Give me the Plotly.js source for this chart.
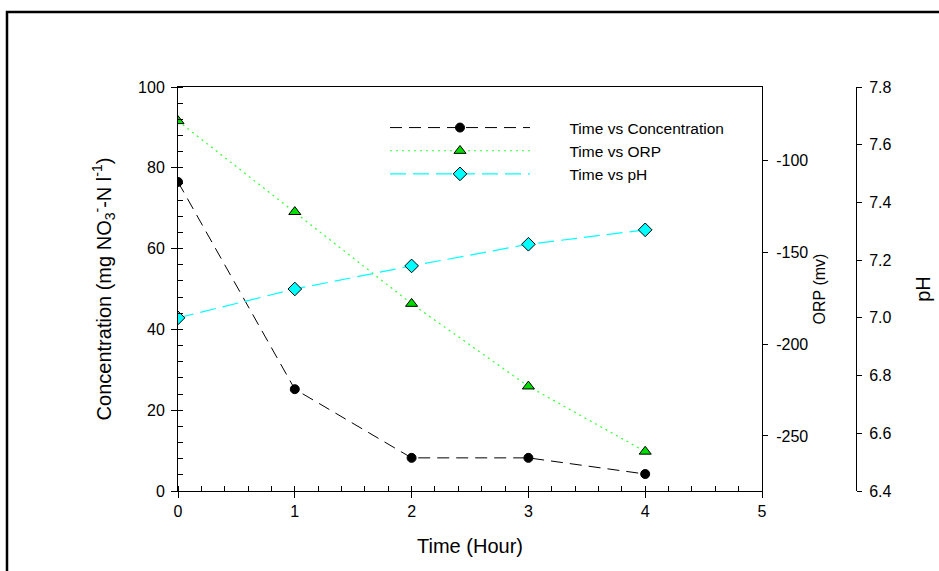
<!DOCTYPE html>
<html>
<head>
<meta charset="utf-8">
<script src="https://cdn.plot.ly/plotly-3.0.1.min.js"></script>
<style>
html,body{margin:0;padding:0;background:#fff;}
#chart{width:939px;height:571px;}
</style>
</head>
<body>
<div id="chart"></div>
<script>
const timeHours = [0, 1, 2, 3, 4];
const concentration = [76.5, 25.2, 8.2, 8.2, 4.2];
const orp = [-78.5, -128, -178, -223, -258.5];
const ph = [7.0, 7.1, 7.18, 7.255, 7.305];
const seriesNames = ['Time vs Concentration', 'Time vs ORP', 'Time vs pH'];
const orpTickVals = [-250, -200, -150, -100];
const orpTickText = ['-250', '-200', '-150', '-100'];

const FONT = 'Liberation Sans, Arial, sans-serif';
const PAD = '\u00a0\u00a0\u00a0\u00a0\u00a0\u00a0\u00a0\u00a0';

const traces = [
  {
    x: timeHours, y: concentration, name: PAD + seriesNames[0],
    type: 'scatter', mode: 'lines+markers', xaxis: 'x', yaxis: 'y',
    line: {color: '#000000', width: 1, dash: '12px,7px'},
    marker: {symbol: 'circle', size: 9, color: '#000000', line: {color: '#000000', width: 1}}
  },
  {
    x: timeHours, y: orp, name: PAD + seriesNames[1],
    type: 'scatter', mode: 'lines+markers', xaxis: 'x', yaxis: 'y2',
    line: {color: '#33ff33', width: 1.2, dash: '2px,4px'},
    marker: {symbol: 'triangle-up', size: 10.5, color: '#00dd00', line: {color: '#000000', width: 1}}
  },
  {
    x: timeHours, y: ph, name: PAD + seriesNames[2],
    type: 'scatter', mode: 'lines+markers', xaxis: 'x', yaxis: 'y3',
    line: {color: '#00ffff', width: 1.2, dash: '16px,7px'},
    marker: {symbol: 'diamond', size: 10.5, color: '#00ffff', line: {color: '#000000', width: 1}}
  }
];

const plotW = 939 - 178 - 83;
const dom = 584 / plotW;

const layout = {
  width: 939, height: 571,
  margin: {l: 178, r: 83, t: 87, b: 80, pad: 0},
  paper_bgcolor: '#ffffff', plot_bgcolor: '#ffffff',
  font: {family: FONT, size: 16, color: '#000000'},
  showlegend: true,
  legend: {
    x: (385 - 178) / plotW, y: (491 - 111) / 404, xanchor: 'left', yanchor: 'top',
    itemwidth: 140, font: {family: FONT, size: 15.5, color: '#000'},
    bgcolor: 'rgba(0,0,0,0)', tracegroupgap: 0, itemclick: false
  },
  xaxis: {
    domain: [0, dom], range: [0, 5], dtick: 1, tick0: 0,
    showline: true, linecolor: '#000', linewidth: 1, mirror: true,
    ticks: 'outside', ticklen: 6, tickwidth: 1, tickcolor: '#000',
    minor: {dtick: 0.2, ticks: 'inside', ticklen: 5, tickwidth: 1, tickcolor: '#000', showgrid: false},
    showgrid: false, zeroline: false,
    tickfont: {family: FONT, size: 16},
    title: {text: 'Time (Hour)', font: {family: FONT, size: 20}, standoff: 19}
  },
  yaxis: {
    range: [0, 100], dtick: 20, tick0: 0,
    showline: true, linecolor: '#000', linewidth: 1,
    ticks: 'outside', ticklen: 6, tickwidth: 1, tickcolor: '#000',
    ticklabelstandoff: 3,
    minor: {dtick: 4, ticks: 'inside', ticklen: 5, tickwidth: 1, tickcolor: '#000', showgrid: false},
    showgrid: false, zeroline: false,
    tickfont: {family: FONT, size: 16},
    title: {text: 'Concentration (mg NO<sub>3</sub><sup>-</sup>-N l<sup>-1</sup>)', font: {family: FONT, size: 20}, standoff: 21}
  },
  yaxis2: {
    overlaying: 'y', anchor: 'x', side: 'right',
    range: [-280, -60], tickmode: 'array', tickvals: orpTickVals, ticktext: orpTickText,
    showline: true, linecolor: '#000', linewidth: 1,
    ticks: 'outside', ticklen: 5, tickwidth: 1, tickcolor: '#000',
    ticklabelstandoff: 5,
    showgrid: false, zeroline: false,
    tickfont: {family: FONT, size: 16},
    title: {text: 'ORP (mv)', font: {family: FONT, size: 16}, standoff: 6}
  },
  yaxis3: {
    overlaying: 'y', anchor: 'free', position: 1, side: 'right',
    range: [6.4, 7.8], dtick: 0.2, tick0: 6.4, tickformat: '.1f',
    showline: true, linecolor: '#000', linewidth: 1,
    ticks: 'outside', ticklen: 5, tickwidth: 1, tickcolor: '#000',
    ticklabelstandoff: 4,
    showgrid: false, zeroline: false,
    tickfont: {family: FONT, size: 16},
    title: {text: 'pH', font: {family: FONT, size: 20}, standoff: 25}
  },
  shapes: [
    {
      type: 'path', xref: 'paper', yref: 'paper',
      path: 'M ' + ((7 - 178) / plotW) + ',' + ((491 - 580) / 404) +
            ' L ' + ((7 - 178) / plotW) + ',' + ((491 - 12) / 404) +
            ' L ' + ((950 - 178) / plotW) + ',' + ((491 - 12) / 404),
      line: {color: '#000', width: 2.5}, layer: 'above'
    }
  ]
};

Plotly.newPlot('chart', traces, layout, {displayModeBar: false, staticPlot: true});
</script>
</body>
</html>
